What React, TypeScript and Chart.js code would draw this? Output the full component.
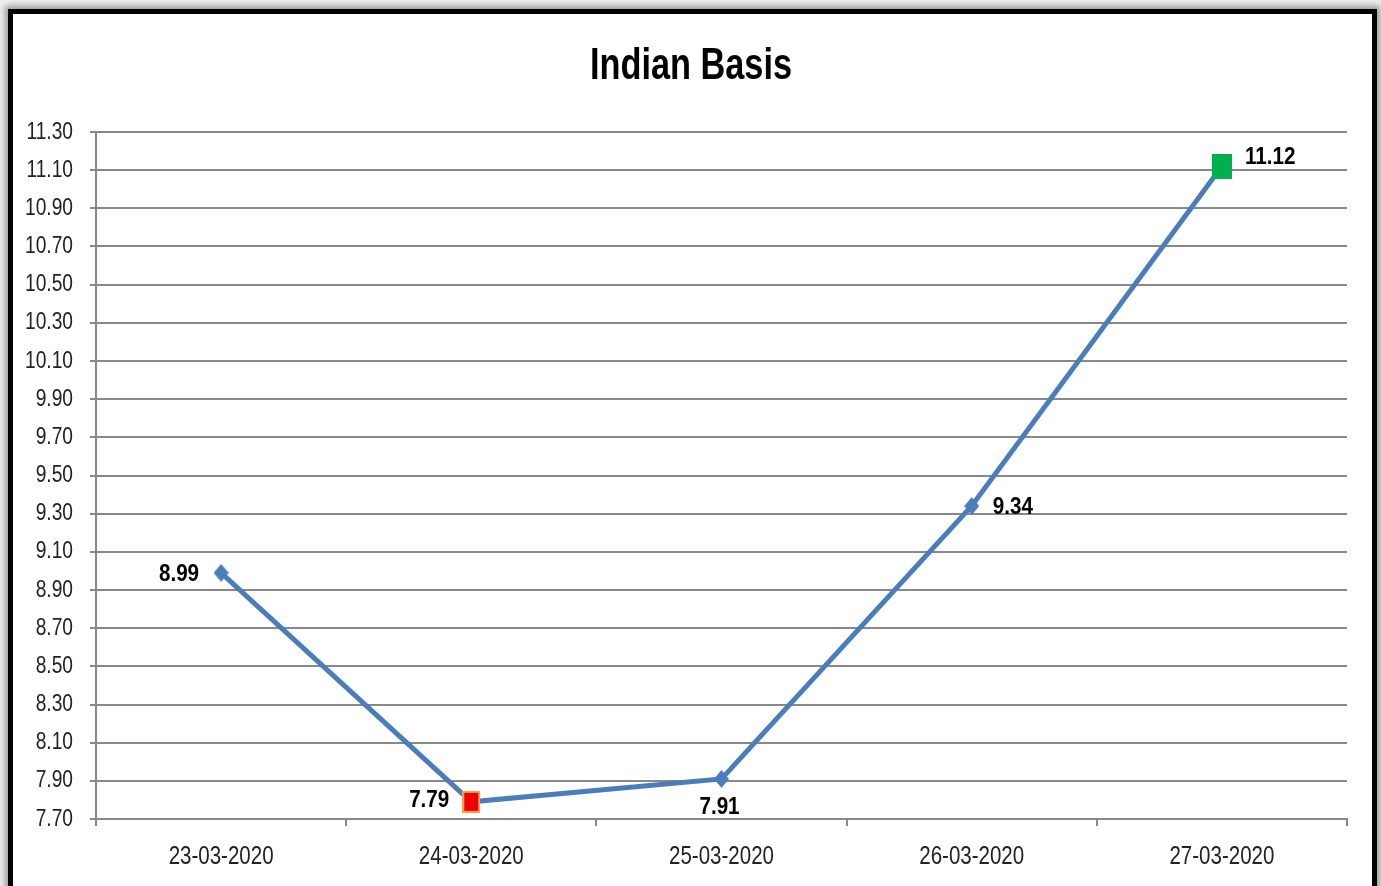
import React, { useEffect, useRef } from "react";
import { Chart, registerables } from "chart.js";

Chart.register(...registerables);

// Daily basis readings
const categories = ["23-03-2020", "24-03-2020", "25-03-2020", "26-03-2020", "27-03-2020"];
const basisValues = [8.99, 7.79, 7.91, 9.34, 11.12];
// Where each value label sits relative to its point
const labelPlacement = ["left", "left", "below", "right", "right-high"];
// Marker kind per point: plain diamond, low (red) and high (green) highlights
const markerKinds = ["diamond", "low", "diamond", "diamond", "high"];

const chartTitle = "Indian Basis";
const yMin = 7.7;
const yMax = 11.3;
const yStep = 0.2;

const FONT = "'Liberation Sans', Arial, sans-serif";
const LINE_BLUE = "#4A7EBB";
const GRID_GREY = "#888888";

function makeMarker(kind: string): HTMLCanvasElement {
  const c = document.createElement("canvas");
  const ctx = c.getContext("2d")!;
  if (kind === "diamond") {
    c.width = 15;
    c.height = 18;
    ctx.fillStyle = LINE_BLUE;
    ctx.beginPath();
    ctx.moveTo(7.5, 0);
    ctx.lineTo(15, 9);
    ctx.lineTo(7.5, 18);
    ctx.lineTo(0, 9);
    ctx.closePath();
    ctx.fill();
  } else if (kind === "low") {
    c.width = 18;
    c.height = 22;
    ctx.fillStyle = "#F5A04A";
    ctx.fillRect(0, 0, 18, 22);
    ctx.fillStyle = "#F00000";
    ctx.fillRect(2, 2, 14, 18);
  } else {
    c.width = 20;
    c.height = 25;
    ctx.fillStyle = "#00B050";
    ctx.fillRect(0, 0, 20, 25);
  }
  return c;
}

// Text in the narrow style of the sheet: regular face squeezed horizontally
function drawNarrow(
  ctx: CanvasRenderingContext2D,
  text: string,
  x: number,
  y: number,
  align: CanvasTextAlign,
  font: string,
  sx: number,
  color: string
) {
  ctx.save();
  ctx.font = font;
  ctx.fillStyle = color;
  ctx.textAlign = align;
  ctx.textBaseline = "middle";
  ctx.translate(x, y);
  ctx.scale(sx, 1);
  ctx.fillText(text, 0, 0);
  ctx.restore();
}

const textLayer = {
  id: "textLayer",
  afterDraw(chart: any) {
    const ctx: CanvasRenderingContext2D = chart.ctx;
    const xs = chart.scales.x;
    const ys = chart.scales.y;

    // title
    drawNarrow(ctx, chartTitle, 691, 67, "center", `bold 44px ${FONT}`, 0.78, "#000");

    // y tick labels
    ys.ticks.forEach((t: any, i: number) => {
      const y = ys.getPixelForTick(i);
      drawNarrow(ctx, Number(t.value).toFixed(2), ys.right - 23, y, "right", `24px ${FONT}`, 0.8, "#222");
    });

    // x tick labels
    xs.ticks.forEach((_t: any, i: number) => {
      const x = xs.getPixelForTick(i);
      drawNarrow(ctx, categories[i], x, xs.top + 38, "center", `25px ${FONT}`, 0.82, "#222");
    });

    // value labels
    const meta = chart.getDatasetMeta(0);
    meta.data.forEach((pt: any, i: number) => {
      const text = basisValues[i].toFixed(2);
      const place = labelPlacement[i];
      const f = `bold 24px ${FONT}`;
      if (place === "left") {
        drawNarrow(ctx, text, pt.x - 22, pt.y + (i === 1 ? -1 : 2), "right", f, 0.86, "#000");
      } else if (place === "right") {
        drawNarrow(ctx, text, pt.x + 21, pt.y + 1, "left", f, 0.86, "#000");
      } else if (place === "right-high") {
        drawNarrow(ctx, text, pt.x + 23, pt.y - 9, "left", f, 0.86, "#000");
      } else {
        drawNarrow(ctx, text, pt.x - 2, pt.y + 28, "center", f, 0.86, "#000");
      }
    });
  },
};

function BasisChart() {
  const ref = useRef<HTMLCanvasElement | null>(null);

  useEffect(() => {
    if (!ref.current) return;
    const markers = markerKinds.map(makeMarker);
    const chart = new Chart(ref.current, {
      type: "line",
      data: {
        labels: categories,
        datasets: [
          {
            data: basisValues,
            borderColor: LINE_BLUE,
            borderWidth: 5,
            pointStyle: markers as any,
            pointRadius: 8,
            tension: 0,
            fill: false,
          },
        ],
      },
      options: {
        animation: false,
        responsive: false,
        events: [],
        layout: { padding: { left: 20, right: 34, top: 132, bottom: 20 } },
        plugins: {
          legend: { display: false },
          tooltip: { enabled: false },
          title: { display: false },
        },
        scales: {
          x: {
            offset: true,
            grid: {
              display: true,
              offset: true,
              drawOnChartArea: false,
              drawTicks: true,
              tickLength: 7,
              color: GRID_GREY,
              lineWidth: 2,
            },
            border: { display: true, color: GRID_GREY, width: 2 },
            ticks: {
              color: "rgba(0,0,0,0)",
              font: { family: FONT, size: 20 },
              padding: 10,
              maxRotation: 0,
              autoSkip: false,
            },
            afterFit: (axis: any) => {
              axis.height = 47;
            },
          },
          y: {
            min: yMin,
            max: yMax,
            grid: {
              color: GRID_GREY,
              lineWidth: 2,
              drawTicks: true,
              tickLength: 6,
            },
            border: { display: true, color: GRID_GREY, width: 2 },
            ticks: {
              stepSize: yStep,
              autoSkip: false,
              color: "rgba(0,0,0,0)",
              font: { family: FONT, size: 20 },
              padding: 17,
              callback: (v: any) => Number(v).toFixed(2),
            },
            afterFit: (axis: any) => {
              axis.width = 76;
            },
          },
        },
      },
      plugins: [textLayer],
    });
    return () => chart.destroy();
  }, []);

  return (
    <canvas
      ref={ref}
      width={1381}
      height={886}
      style={{ position: "absolute", left: 0, top: 0, width: 1381, height: 886 }}
    />
  );
}

export default function App() {
  return (
    <div
      style={{
        position: "fixed",
        left: 0,
        top: 0,
        width: 1381,
        height: 886,
        overflow: "hidden",
        background: "#ededed",
      }}
    >
      <div
        style={{
          position: "absolute",
          left: 8,
          top: 9,
          width: 1369,
          height: 920,
          boxSizing: "border-box",
          border: "5px solid #000",
          background: "#fff",
          boxShadow: "0 0 6px 3px rgba(0,0,0,0.35)",
        }}
      />
      <BasisChart />
    </div>
  );
}
